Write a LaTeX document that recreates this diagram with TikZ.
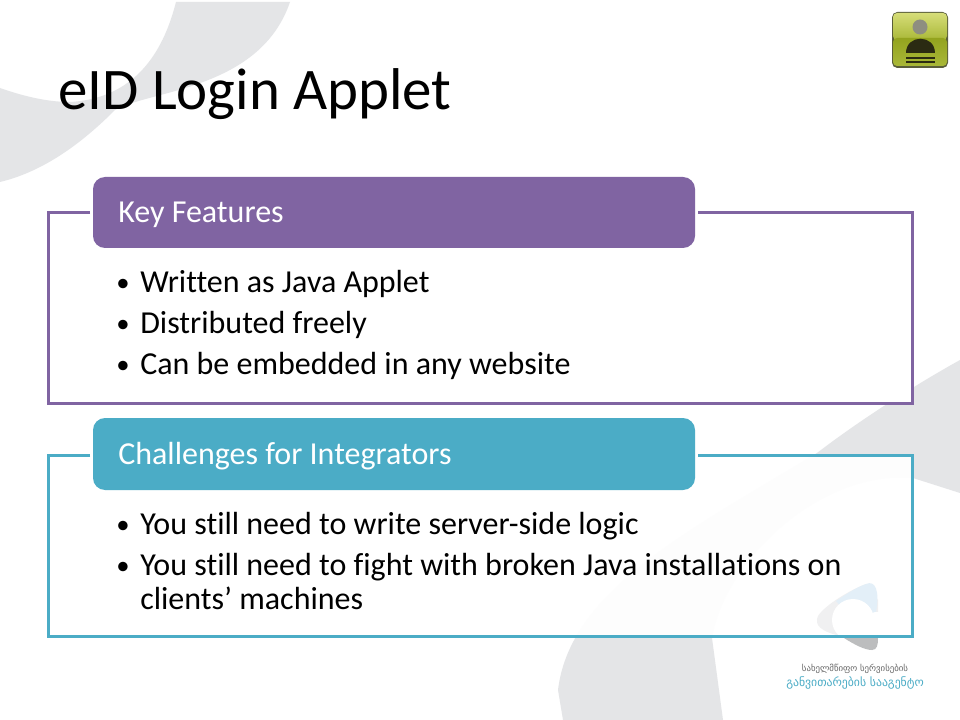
\documentclass[tikz,border=0pt]{standalone}
\usepackage{fontspec}
\setmainfont[Ligatures=CommonOff]{Carlito}
\newfontfamily\geofont{DejaVu Sans}
\definecolor{purp}{HTML}{8064A2}
\definecolor{teal2}{HTML}{4BACC6}
\definecolor{swoosh}{HTML}{E4E5E7}
\definecolor{logoblue}{HTML}{E3EFF8}
\definecolor{logolight}{HTML}{F0F0F1}
\definecolor{logogray}{HTML}{BCBDBE}
\definecolor{iconedge}{HTML}{5A5E3A}
\definecolor{icontop}{HTML}{D6DD78}
\definecolor{iconmid}{HTML}{A9B838}
\definecolor{iconlow}{HTML}{93A31E}
\definecolor{iconhead}{HTML}{8E8E80}
\definecolor{icondark}{HTML}{2B2B12}
\tikzset{
 frameline/.style={line width=2.25pt,line join=miter},
 headbox/.style={rounded corners=9pt,draw=none},
 headtext/.style={anchor=base west,text=white,font=\fontsize{24pt}{28pt}\selectfont,inner sep=0pt},
 bodytext/.style={anchor=base west,text=black,font=\fontsize{24pt}{28pt}\selectfont,inner sep=0pt},
 bullettext/.style={anchor=base west,text=black,font=\fontsize{20pt}{24pt}\selectfont,inner sep=0pt},
 titletext/.style={anchor=base west,text=black,font=\fontsize{44.2pt}{48pt}\selectfont,inner sep=0pt}
}
\begin{document}
\begin{tikzpicture}[x=0.75pt,y=-0.75pt]
\useasboundingbox (0,0) rectangle (960,720);
\fill[white] (0,0) rectangle (960,720);
% background swooshes
\fill[swoosh] (176,2) .. controls (165,45) and (140,98) .. (70,102) .. controls (45,102) and (20,95) .. (0,88) -- (0,182)
  .. controls (50,170) and (90,135) .. (115,110) .. controls (150,90) and (260,90) .. (290,2) -- cycle;
\fill[swoosh] (960,360) .. controls (915,385) and (860,420) .. (817,453)
  .. controls (690,530) and (570,590) .. (558,690) -- (563,720) -- (723,720) -- (712,638)
  .. controls (725,560) and (820,470) .. (913,478) -- (960,493) -- cycle;
% frames
\coordinate (a1) at (90,212.5); \coordinate (a2) at (48.5,212.5); \coordinate (a3) at (48.5,403);
\coordinate (a4) at (912.5,403); \coordinate (a5) at (912.5,212.5); \coordinate (a6) at (698,212.5);
\fill[white] (a2) rectangle (a4);
\draw[frameline,purp] (a1) -- (a2) -- (a3) -- (a4) -- (a5) -- (a6);
\coordinate (b1) at (90,455); \coordinate (b2) at (48.5,455); \coordinate (b3) at (48.5,636.5);
\coordinate (b4) at (912.5,636.5); \coordinate (b5) at (912.5,455); \coordinate (b6) at (698,455);
\fill[white,opacity=.93] (b2) rectangle (b4);
% logo triangle
\fill[logolight] (866,584) .. controls (850,590) and (825,605) .. (818,616) .. controls (814,625) and (820,632) .. (845,637) -- (878,637) -- (878,600) -- cycle;
\fill[logoblue] (866,584) .. controls (875,580) and (880,590) .. (876,612) -- (853,620) -- (836,601) .. controls (845,595) and (855,588) .. (866,584) -- cycle;
\fill[white] (853,620) circle (21);
\fill[white] (875,612) -- (881,612) -- (881,637) -- (853,637) -- (853,620) -- cycle;
\draw[frameline,teal2] (b1) -- (b2) -- (b3) -- (b4) -- (b5) -- (b6);
\fill[logogray] (844,638) -- (878,638) .. controls (878,645) and (877,650) .. (872,650) .. controls (865,650) and (855,645) .. (844,638) -- cycle;
\fill[purp,headbox] (93,177) rectangle (695,248);
\fill[teal2,headbox] (93,418) rectangle (695,490);
% texts
\node[titletext] (title) at (58,109.5) {eID Login Applet};
\node[headtext] (h1) at (118,223) {Key Features};
\node[headtext] (h2) at (118,464) {Challenges for Integrators};
\foreach \y/\t in {292/Written as Java Applet,333/Distributed freely,374/Can be embedded in any website,
  534/You still need to write server-side logic,
  575/You still need to fight with broken Java installations on}{
  \node[bullettext] at (116,\y-0.5) {•};
  \node[bodytext] at (140,\y+0.5) {\t};
}
\node[bodytext] (c) at (140,609.5) {clients’ machines};
% icon
\fill[iconedge,rounded corners=4pt] (892,12) rectangle (948,68);
\shade[top color=icontop,bottom color=iconmid,rounded corners=3pt] (893,13) rectangle (947,40);
\shade[top color=iconlow,bottom color=iconmid,rounded corners=3pt] (893,38) rectangle (947,66);
\fill[iconhead] (920,27) circle (7.5);
\fill[icondark] (906,53) .. controls (906,34) and (935,34) .. (935,53) -- cycle;
\fill[icondark] (906,57) rectangle (935,59);
\fill[icondark] (906,61.5) rectangle (935,63);
% agency text
\node[inner sep=0pt,text=black!60,font=\geofont\fontsize{6.6pt}{8pt}\selectfont] (g1) at (855,669) {სახელმწიფო სერვისების};
\node[inner sep=0pt,text=teal2,font=\geofont\fontsize{8.8pt}{10pt}\selectfont] (g2) at (855,683) {განვითარების სააგენტო};
\end{tikzpicture}
\end{document}
